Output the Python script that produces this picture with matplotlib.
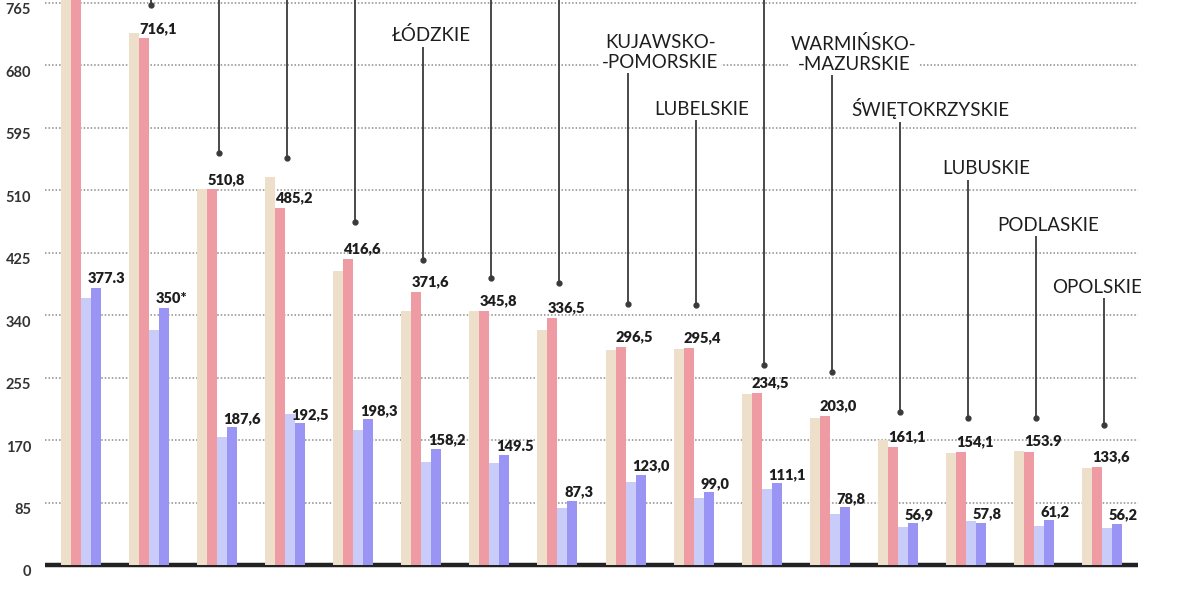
import matplotlib
matplotlib.use("Agg")
import matplotlib.pyplot as plt
import matplotlib.transforms as mtransforms
import numpy as np

# ---------------- data ----------------
regions = ["MAZOWIECKIE", "ŚLĄSKIE", "WIELKOPOLSKIE", "MAŁOPOLSKIE", "DOLNOŚLĄSKIE",
           "ŁÓDZKIE", "POMORSKIE", "ZACHODNIOPOMORSKIE", "KUJAWSKO-\n-POMORSKIE",
           "LUBELSKIE", "PODKARPACKIE", "WARMIŃSKO-\n-MAZURSKIE", "ŚWIĘTOKRZYSKIE",
           "LUBUSKIE", "PODLASKIE", "OPOLSKIE"]
series_beige = [1000, 723, 511, 528, 400, 346, 346, 320, 292, 294, 232, 199.5, 170, 153, 155.5, 131.5]
series_pink = [1050, 716.1, 510.8, 485.2, 416.6, 371.6, 345.8, 336.5, 296.5, 295.4, 234.5, 203.0,
               161.1, 154.1, 153.9, 133.6]
series_lav = [363, 320, 174.5, 206, 183, 140.5, 139, 77, 113, 91, 104, 70, 52, 60, 53, 50]
series_blue = [377.3, 350, 187.6, 192.5, 198.3, 158.2, 149.5, 87.3, 123.0, 99.0, 111.1, 78.8,
               56.9, 57.8, 61.2, 56.2]
labels_pink = ["", "716,1", "510,8", "485,2", "416,6", "371,6", "345,8", "336,5", "296,5",
               "295,4", "234,5", "203,0", "161,1", "154,1", "153.9", "133,6"]
labels_blue = ["377.3", "350*", "187,6", "192,5", "198,3", "158,2", "149.5", "87,3", "123,0",
               "99,0", "111,1", "78,8", "56,9", "57,8", "61,2", "56,2"]
yticks = [0, 85, 170, 255, 340, 425, 510, 595, 680, 765]

# ---------------- layout (annotation geometry) ----------------
leader_bottom = [None, 761, 560, 554, 467, 415, 390, 383, 355, 354, 272, 262, 208, 200, 200, 190]
leader_top = [None, 900, 900, 900, 900, 705, 900, 900, 669, 605, 900, 666, 603, 524, 447, 363]
name_visible = [False, False, False, False, False, True, False, False, True, True, False, True,
                True, True, True, True]
name_dx_px = [0, 0, 0, 0, 0, 10, 0, 0, 35, 8, 0, 24, 33, 20, 14, -5]

# ---------------- styling ----------------
C_BEIGE = "#EEDFCB"
C_PINK = "#EE9BA3"
C_LAV = "#C9CCF8"
C_BLUE = "#9A94F4"
TXT = "#1e1e1e"
FONT = ["Lato", "DejaVu Sans"]
plt.rcParams["font.family"] = FONT

W, H = 1200, 589
fig = plt.figure(figsize=(12, 5.89), dpi=100)
ax = fig.add_axes([45 / W, 0, (1138 - 45) / W, 1])

PX = 68.07  # pixels per group
x0_px = 81
ax.set_xlim((45 - x0_px) / PX, (1138 - x0_px) / PX)
ax.set_ylim((565 - 589) * 1.36, 565 * 1.36)

n = len(regions)
x = np.arange(n)
bw = 10 / PX
offs = np.array([-1.5, -0.5, 0.5, 1.5]) * bw

ax.bar(x + offs[0], series_beige, width=bw, color=C_BEIGE, zorder=3, linewidth=0)
ax.bar(x + offs[1], series_pink, width=bw, color=C_PINK, zorder=3, linewidth=0)
ax.bar(x + offs[2], series_lav, width=bw, color=C_LAV, zorder=3, linewidth=0)
ax.bar(x + offs[3], series_blue, width=bw, color=C_BLUE, zorder=3, linewidth=0)

# baseline
ax.axhline(0, color="#222222", lw=3.2, zorder=2)

# grid
ax.set_yticks(yticks)
for yv in yticks[1:]:
    ax.axhline(yv, color="#8c8c8c", lw=1.1, linestyle=(0, (1.0, 1.3)), zorder=1)

ax.set_xticks([])
for s in ax.spines.values():
    s.set_visible(False)
ax.tick_params(axis="y", length=0, pad=10, labelsize=10.5, labelcolor="#333333")
shift = mtransforms.ScaledTranslation(0, -6 / 100, fig.dpi_scale_trans)
for lab in ax.get_yticklabels():
    lab.set_transform(lab.get_transform() + shift)
    lab.set_fontweight("bold")

ytop = ax.get_ylim()[1]

# value labels
for i in range(n):
    if labels_pink[i] and series_pink[i] < ytop:
        ax.annotate(labels_pink[i], (x[i] + offs[1] - bw / 2, series_pink[i]),
                    xytext=(0, 4), textcoords="offset points", ha="left", va="baseline",
                    fontsize=10.5, fontweight="heavy", color=TXT, zorder=5)
    ax.annotate(labels_blue[i], (x[i] + offs[3] - bw / 2, series_blue[i]),
                xytext=(-2.5, 3), textcoords="offset points", ha="left", va="baseline",
                fontsize=10.5, fontweight="heavy", color=TXT, zorder=5)

# leader lines and region names
for i in range(n):
    if leader_bottom[i] is None:
        continue
    lx = x[i] + 2 / PX
    ax.plot([lx, lx], [leader_bottom[i], leader_top[i]], color="#3a3a3a", lw=1.3,
            zorder=4, solid_capstyle="butt")
    ax.plot([lx], [leader_bottom[i]], marker="o", ms=3.5, color="#3a3a3a", zorder=4)
    if name_visible[i]:
        ax.annotate(regions[i], (x[i] + name_dx_px[i] / PX, leader_top[i]),
                    xytext=(0, 4), textcoords="offset points", ha="center", va="baseline",
                    multialignment="center", fontsize=13.5, color=TXT, zorder=5,
                    linespacing=1.2,
                    bbox=dict(boxstyle="square,pad=0.1", fc="white", ec="none"))

fig.savefig("out.png", dpi=100)
